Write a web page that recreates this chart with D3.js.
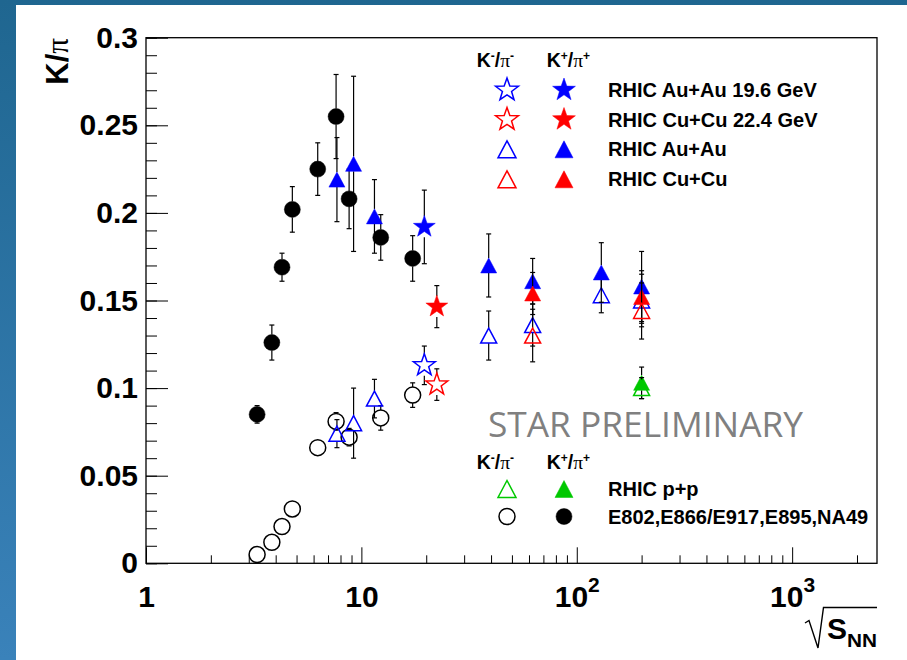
<!DOCTYPE html>
<html>
<head>
<meta charset="utf-8">
<script src="https://cdn.jsdelivr.net/npm/d3@7"></script>
<style>
body { margin: 0; }
svg { display: block; }
</style>
</head>
<body>
<div id="chart"></div>
<script>
"use strict";
// values: sqrt(s_NN) in GeV, K/pi ratio and its error
let sNN_e802 = [3.28, 3.84, 4.28, 4.78, 6.27, 7.63, 8.77, 12.3, 17.3];
let kPlus_e802 = [0.085, 0.126, 0.169, 0.202, 0.225, 0.255, 0.208, 0.186, 0.174];
let kPlusErr_e802 = [0.005, 0.010, 0.008, 0.013, 0.015, 0.024, 0.017, 0.013, 0.013];
let kMinus_e802 = [0.005, 0.012, 0.021, 0.031, 0.066, 0.081, 0.072, 0.083, 0.096];
let kMinusErr_e802 = [0, 0, 0, 0, 0, 0.005, 0.005, 0.007, 0.007];

let sNN_auau = [7.7, 9.2, 11.5, 39, 62.4, 130, 200];
let kPlus_auau = [0.219, 0.228, 0.198, 0.170, 0.161, 0.166, 0.158];
let kPlusErr_auau = [0.024, 0.050, 0.021, 0.018, 0.013, 0.017, 0.020];
let kMinus_auau = [0.074, 0.080, 0.094, 0.130, 0.136, 0.153, 0.150];
let kMinusErr_auau = [0.008, 0.020, 0.011, 0.014, 0.012, 0.010, 0.015];

let sNN_cucu = [62.4, 200];
let kPlus_cucu = [0.154, 0.152];
let kPlusErr_cucu = [0.012, 0.015];
let kMinus_cucu = [0.130, 0.144];
let kMinusErr_cucu = [0.015, 0.016];

let sNN_pp = [200];
let kPlus_pp = [0.103];
let kPlusErr_pp = [0.009];
let kMinus_pp = [0.100];
let kMinusErr_pp = [0.006];

let sNN_auau19 = [19.6];
let kPlus_auau19 = [0.192];
let kPlusErr_auau19 = [0.021];
let kMinus_auau19 = [0.113];
let kMinusErr_auau19 = [0.011];

let sNN_cucu22 = [22.4];
let kPlus_cucu22 = [0.1465];
let kPlusErr_cucu22 = [0.012];
let kMinus_cucu22 = [0.102];
let kMinusErr_cucu22 = [0.009];

let yMajorTicks = [0, 0.05, 0.1, 0.15, 0.2, 0.25, 0.3];
let xMajorTicks = [1, 10, 100, 1000];
let legendTop = ["RHIC Au+Au 19.6 GeV", "RHIC Cu+Cu 22.4 GeV", "RHIC Au+Au", "RHIC Cu+Cu"];
let legendBottom = ["RHIC p+p", "E802,E866/E917,E895,NA49"];

let width = 907;
let height = 660;
let blue = "#0000ff", red = "#ff0000", green = "#00c800";
let labelFont = "'Liberation Sans', Arial, Helvetica, sans-serif";

let svg = d3.select("#chart").append("svg")
    .attr("width", width)
    .attr("height", height);

// slide background + white panel
let grad = svg.append("defs").append("linearGradient")
    .attr("id", "bg").attr("x1", 0).attr("y1", 0).attr("x2", 0).attr("y2", 1);
grad.append("stop").attr("offset", "0%").attr("stop-color", "#1f6690");
grad.append("stop").attr("offset", "100%").attr("stop-color", "#3a82ba");
svg.append("rect").attr("width", width).attr("height", height).attr("fill", "url(#bg)");
svg.append("rect").attr("x", 16).attr("y", 5).attr("width", width - 16).attr("height", height - 5).attr("fill", "#fff");

let xScale = d3.scaleLog().domain([1, 2477]).range([146, 877]);
let yScale = d3.scaleLinear().domain([0, 0.3]).range([563.3, 37.7]);

// y axis: minor then major ticks, drawn inward
svg.append("g")
    .attr("transform", "translate(146,0)")
    .call(d3.axisLeft(yScale).tickValues(d3.range(0, 31).map(function(i) { return i / 100; }))
        .tickSize(-11).tickFormat(""))
    .call(function(g) { g.select(".domain").remove(); });

svg.append("g")
    .attr("class", "axis")
    .attr("transform", "translate(146,0)")
    .call(d3.axisLeft(yScale).tickValues(yMajorTicks).tickSizeInner(-22).tickSizeOuter(0)
        .tickPadding(8).tickFormat(String))
    .call(function(g) { g.select(".domain").remove(); });

// x axis (log)
let xMinor = [];
[1, 10, 100, 1000].forEach(function(dec) {
    for (let k = 2; k <= 9; k++) if (dec * k < 2477) xMinor.push(dec * k);
});
svg.append("g")
    .attr("transform", "translate(0,563.3)")
    .call(d3.axisBottom(xScale).tickValues(xMinor).tickSize(-8).tickFormat(""))
    .call(function(g) { g.select(".domain").remove(); });

let xAxisG = svg.append("g")
    .attr("class", "axis")
    .attr("transform", "translate(0,563.3)")
    .call(d3.axisBottom(xScale).tickValues(xMajorTicks).tickSizeInner(-16).tickSizeOuter(0)
        .tickPadding(22.4).tickFormat(""))
    .call(function(g) { g.select(".domain").remove(); });

xAxisG.selectAll(".tick text").each(function(d) {
    let t = d3.select(this);
    let p = Math.round(Math.log10(d));
    if (p === 0) t.text("1");
    else if (p === 1) t.text("10");
    else {
        t.append("tspan").text("10");
        t.append("tspan").attr("font-size", 21).attr("dy", -15).text(p);
    }
});

svg.selectAll(".axis text")
    .attr("font-family", labelFont)
    .attr("font-weight", "bold")
    .attr("font-size", 30)
    .attr("fill", "#000");
svg.selectAll(".tick line").attr("stroke", "#000").attr("stroke-width", 1);

// frame
svg.append("rect")
    .attr("x", 146).attr("y", 37.7)
    .attr("width", 877 - 146).attr("height", 563.3 - 37.7)
    .attr("fill", "none").attr("stroke", "#000").attr("stroke-width", 1.3);

// axis titles
let yTitle = svg.append("text")
    .attr("transform", "translate(68,38) rotate(-90)")
    .attr("text-anchor", "end")
    .attr("font-size", 31)
    .attr("font-family", labelFont);
yTitle.append("tspan").attr("font-weight", "bold").text("K/");
yTitle.append("tspan").attr("font-family", "'Liberation Serif', 'Times New Roman', serif").text("π");

svg.append("path")
    .attr("d", "M805,623 L809,620.5 L818,648 L823.5,607.5 L877,607.5")
    .attr("fill", "none").attr("stroke", "#000").attr("stroke-width", 1.4);
svg.append("text")
    .attr("x", 827).attr("y", 639)
    .attr("font-family", labelFont).attr("font-weight", "bold").attr("font-size", 30)
    .text("S");
svg.append("text")
    .attr("x", 847).attr("y", 647)
    .attr("font-family", labelFont).attr("font-weight", "bold").attr("font-size", 18)
    .attr("textLength", 30).attr("lengthAdjust", "spacingAndGlyphs")
    .text("NN");

// STAR PRELIMINARY
svg.append("text")
    .attr("x", 488).attr("y", 437)
    .attr("font-family", "'Open Sans', Lato, sans-serif")
    .attr("font-size", 35)
    .attr("fill", "#808080")
    .attr("textLength", 315).attr("lengthAdjust", "spacingAndGlyphs")
    .text("STAR PRELIMINARY");

// marker paths
function markerPath(shape, size) {
    if (shape === "circle") {
        return d3.arc()({innerRadius: 0, outerRadius: size.r, startAngle: 0, endAngle: 2 * Math.PI});
    }
    if (shape === "triangle") {
        let w = size.w, h = size.h;
        return "M0," + (-h / 2) + "L" + (w / 2) + "," + (h / 2) + "L" + (-w / 2) + "," + (h / 2) + "Z";
    }
    // five-point star
    let pts = [];
    for (let i = 0; i < 10; i++) {
        let rad = i % 2 === 0 ? size.r : size.r * 0.4;
        let a = -Math.PI / 2 + i * Math.PI / 5;
        pts.push([rad * Math.cos(a), rad * Math.sin(a)]);
    }
    return "M" + pts.map(function(p) { return p[0].toFixed(2) + "," + p[1].toFixed(2); }).join("L") + "Z";
}
function halfHeight(shape, size) {
    if (shape === "circle") return size.r;
    if (shape === "triangle") return size.h / 2;
    return size.r * 0.9;
}

let circleSize = {r: 8};
let triSize = {w: 16, h: 15};
let starSize = {r: 11.5};

// series table built from the arrays above
let series = [
    {x: sNN_e802, y: kMinus_e802, err: kMinusErr_e802, shape: "circle", size: circleSize, color: "#000", filled: false},
    {x: sNN_e802, y: kPlus_e802, err: kPlusErr_e802, shape: "circle", size: circleSize, color: "#000", filled: true},
    {x: sNN_auau, y: kMinus_auau, err: kMinusErr_auau, shape: "triangle", size: triSize, color: blue, filled: false},
    {x: sNN_auau, y: kPlus_auau, err: kPlusErr_auau, shape: "triangle", size: triSize, color: blue, filled: true},
    {x: sNN_cucu, y: kPlus_cucu, err: kPlusErr_cucu, shape: "triangle", size: triSize, color: red, filled: true},
    {x: sNN_cucu, y: kMinus_cucu, err: kMinusErr_cucu, shape: "triangle", size: triSize, color: red, filled: false},
    {x: sNN_pp, y: kPlus_pp, err: kPlusErr_pp, shape: "triangle", size: triSize, color: green, filled: true},
    {x: sNN_pp, y: kMinus_pp, err: kMinusErr_pp, shape: "triangle", size: triSize, color: green, filled: false},
    {x: sNN_auau19, y: kPlus_auau19, err: kPlusErr_auau19, shape: "star", size: starSize, color: blue, filled: true},
    {x: sNN_auau19, y: kMinus_auau19, err: kMinusErr_auau19, shape: "star", size: starSize, color: blue, filled: false},
    {x: sNN_cucu22, y: kPlus_cucu22, err: kPlusErr_cucu22, shape: "star", size: starSize, color: red, filled: true},
    {x: sNN_cucu22, y: kMinus_cucu22, err: kMinusErr_cucu22, shape: "star", size: starSize, color: red, filled: false}
];

let plot = svg.append("g");
series.forEach(function(s) {
    let pts = s.x.map(function(xv, i) { return {x: xv, y: s.y[i], e: s.err[i]}; });
    let gap = halfHeight(s.shape, s.size);
    let g = plot.append("g");

    // error bars (black, gap around the marker, small caps)
    pts.forEach(function(p) {
        if (!p.e) return;
        let cx = xScale(p.x), cy = yScale(p.y);
        let top = yScale(p.y + p.e), bot = yScale(p.y - p.e);
        let bars = g.append("g").attr("stroke", "#000").attr("stroke-width", 1.2);
        if (cy - gap > top) bars.append("line").attr("x1", cx).attr("x2", cx).attr("y1", cy - gap).attr("y2", top);
        if (cy + gap < bot) bars.append("line").attr("x1", cx).attr("x2", cx).attr("y1", cy + gap).attr("y2", bot);
        [top, bot].forEach(function(yy) {
            bars.append("line").attr("x1", cx - 2.5).attr("x2", cx + 2.5).attr("y1", yy).attr("y2", yy);
        });
    });

    g.selectAll("path.marker")
        .data(pts)
        .enter()
        .append("path")
        .attr("class", "marker")
        .attr("transform", function(d) { return "translate(" + xScale(d.x) + "," + yScale(d.y) + ")"; })
        .attr("d", markerPath(s.shape, s.size))
        .attr("fill", s.filled ? s.color : "none")
        .attr("stroke", s.color)
        .attr("stroke-width", s.filled ? 0.5 : 1.5);
});

// legends
function legendHeader(x, y, sign) {
    let t = svg.append("text").attr("x", x).attr("y", y)
        .attr("font-family", labelFont).attr("font-size", 19.5).attr("font-weight", "bold");
    t.append("tspan").text("K");
    t.append("tspan").attr("font-size", 12).attr("dy", -7).text(sign);
    t.append("tspan").attr("dy", 7).text("/");
    t.append("tspan").attr("font-family", "'Liberation Serif', serif").attr("font-weight", "normal").text("π");
    t.append("tspan").attr("font-size", 12).attr("dy", -7).text(sign);
}
function legendRow(y, label, shape, size, color) {
    svg.append("path").attr("transform", "translate(507," + y + ")")
        .attr("d", markerPath(shape, size)).attr("fill", "none")
        .attr("stroke", color).attr("stroke-width", 1.5);
    svg.append("path").attr("transform", "translate(564," + y + ")")
        .attr("d", markerPath(shape, size)).attr("fill", color)
        .attr("stroke", color).attr("stroke-width", 0.5);
    svg.append("text").attr("x", 608).attr("y", y + 7)
        .attr("font-family", labelFont).attr("font-size", 20).attr("font-weight", "bold")
        .text(label);
}

let legStar = {r: 12}, legTri = {w: 18, h: 17};
legendHeader(476.7, 67, "-");
legendHeader(546.7, 67, "+");
legendRow(90, legendTop[0], "star", legStar, blue);
legendRow(119.5, legendTop[1], "star", legStar, red);
legendRow(149.3, legendTop[2], "triangle", legTri, blue);
legendRow(179.3, legendTop[3], "triangle", legTri, red);

legendHeader(476.7, 469, "-");
legendHeader(546.7, 469, "+");
legendRow(489, legendBottom[0], "triangle", legTri, green);
legendRow(516.5, legendBottom[1], "circle", circleSize, "#000");
</script>
</body>
</html>
